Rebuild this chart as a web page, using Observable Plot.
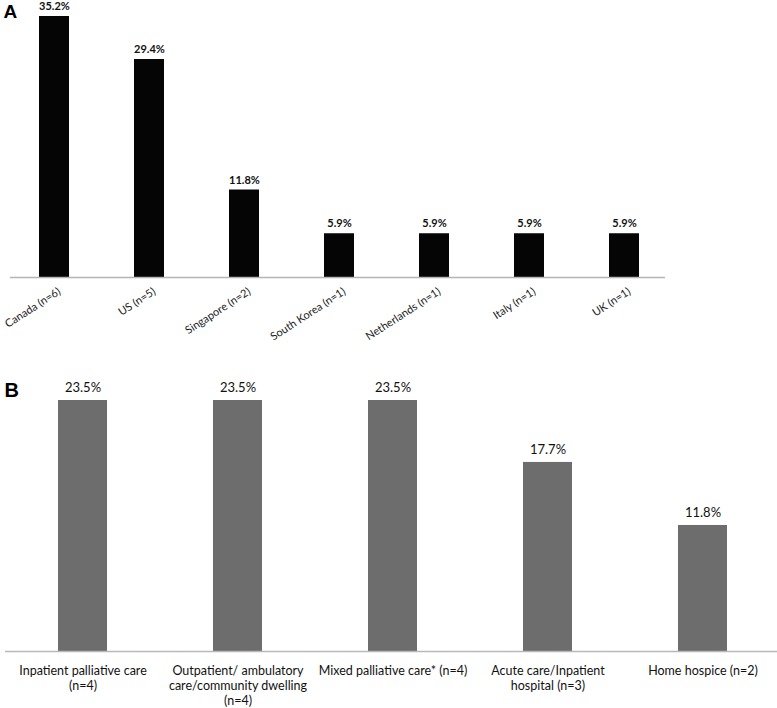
<!DOCTYPE html>
<html>
<head>
<meta charset="utf-8">
<script src="https://cdn.jsdelivr.net/npm/d3@7"></script>
<script src="https://cdn.jsdelivr.net/npm/@observablehq/plot@0.6"></script>
<style>
  html, body { margin: 0; padding: 0; background: #fff; }
  svg { display: block; }
</style>
</head>
<body>
<div id="chart"></div>
<script>
// Panel A: countries
const countries = ["Canada (n=6)", "US (n=5)", "Singapore (n=2)", "South Korea (n=1)", "Netherlands (n=1)", "Italy (n=1)", "UK (n=1)"];
const countryPct = [35.2, 29.4, 11.8, 5.9, 5.9, 5.9, 5.9];

// Panel B: settings
const settings = [
  "Inpatient palliative care\n(n=4)",
  "Outpatient/ ambulatory\ncare/community dwelling\n(n=4)",
  "Mixed palliative care* (n=4)",
  "Acute care/Inpatient\nhospital (n=3)",
  "Home hospice (n=2)"
];
const settingPct = [23.5, 23.5, 23.5, 17.7, 11.8];

const dataA = countries.map((c, i) => ({cat: c, pct: countryPct[i]}));
const dataB = settings.map((c, i) => ({cat: c, pct: settingPct[i]}));

const font = "Lato, 'Noto Sans', sans-serif";

const plotA = Plot.plot({
  width: 777,
  height: 360,
  marginLeft: 10,
  marginRight: 112,
  marginTop: 0,
  marginBottom: 0,
  style: {fontFamily: font, background: "#fff"},
  x: {domain: countries, range: [38, 639.2], paddingInner: 0.685, paddingOuter: 0, axis: null},
  y: {domain: [0, 35.2], range: [277, 16], axis: null},
  marks: [
    Plot.barY(dataA, {x: "cat", y: "pct", fill: "#050505"}),
    Plot.ruleY([0], {stroke: "#b5b5b5", strokeWidth: 1.5}),
    Plot.text(dataA, {x: "cat", y: "pct", text: d => d.pct.toFixed(1) + "%", dy: -10, fontSize: 11, fontWeight: "bold", fill: "#111"}),
    Plot.text(dataA, {x: "cat", y: 0, text: "cat", rotate: -33, textAnchor: "end", dx: 5, dy: 13, fontSize: 11, fill: "#222"}),
    Plot.text(["A"], {frameAnchor: "top-left", text: d => d, dx: -7, dy: 4, lineAnchor: "top", textAnchor: "start", fontSize: 19, fontWeight: "bold", fontFamily: "'Liberation Sans', Arial, sans-serif", fill: "#000"})
  ]
});

const plotB = Plot.plot({
  width: 777,
  height: 348,
  marginLeft: 5,
  marginRight: 0,
  marginTop: 0,
  marginBottom: 0,
  style: {fontFamily: font, background: "#fff"},
  x: {domain: settings, range: [57, 727], paddingInner: 0.684, paddingOuter: 0, axis: null},
  y: {domain: [0, 23.5], range: [291, 40], axis: null},
  marks: [
    Plot.barY(dataB, {x: "cat", y: "pct", fill: "#6d6d6d"}),
    Plot.ruleY([0], {stroke: "#b8b8b8", strokeWidth: 1.5}),
    Plot.text(dataB, {x: "cat", y: "pct", text: d => d.pct.toFixed(1) + "%", dy: -13, fontSize: 13, fill: "#111"}),
    Plot.text(dataB, {x: "cat", y: 0, text: "cat", lineAnchor: "top", dy: 13, lineHeight: 1.2, fontSize: 12.5, fill: "#111"}),
    Plot.text(["B"], {frameAnchor: "top-left", text: d => d, dx: -1, dy: 22, lineAnchor: "top", textAnchor: "start", fontSize: 20, fontWeight: "bold", fontFamily: "'Liberation Sans', Arial, sans-serif", fill: "#000"})
  ]
});

const chart = document.getElementById("chart");
chart.appendChild(plotA);
chart.appendChild(plotB);
</script>
</body>
</html>
